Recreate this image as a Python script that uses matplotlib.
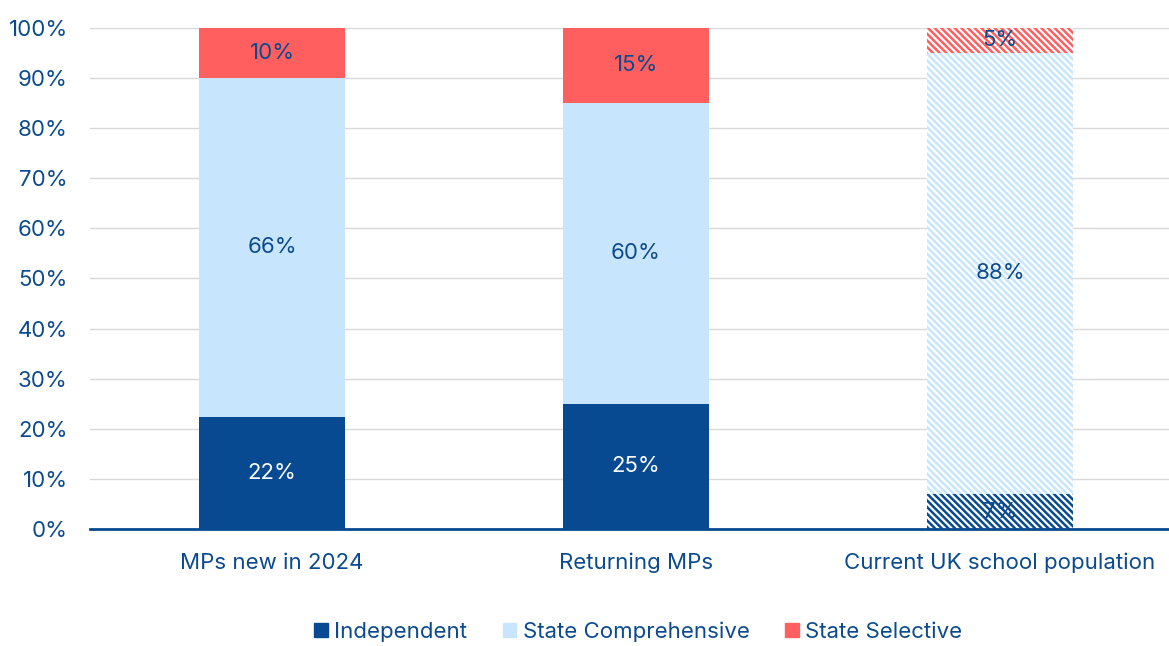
import matplotlib
matplotlib.use('Agg')
import matplotlib.pyplot as plt
from matplotlib.patches import Patch
import numpy as np

# data
categories = ['MPs new in 2024', 'Returning MPs', 'Current UK school population']
independent = [22.4, 25, 7]
comprehensive = [67.6, 60, 88]
selective = [10, 15, 5]
independent_labels = ['22%', '25%', '7%']
comprehensive_labels = ['66%', '60%', '88%']
selective_labels = ['10%', '15%', '5%']
hatched = [False, False, True]

navy = '#074A91'
light = '#C7E6FD'
red = '#FF5F5F'
text_col = '#0B4A8F'

plt.rcParams['font.family'] = ['Inter', 'DejaVu Sans']
plt.rcParams['hatch.linewidth'] = 1.8

fig = plt.figure(figsize=(11.69, 6.46), dpi=100)
ax = fig.add_axes([0.077, 0.181, 0.923, 0.776])

x = np.arange(len(categories))
w = 0.4
series = [(independent, independent_labels, navy, 'white'),
          (comprehensive, comprehensive_labels, light, text_col),
          (selective, selective_labels, red, text_col)]

bottom = np.zeros(len(categories))
for vals, labs, col, tcol in series:
    for i in range(len(categories)):
        if hatched[i]:
            ax.bar(x[i], vals[i], w, bottom=bottom[i], facecolor='white',
                   edgecolor=col, hatch='\\\\\\\\\\', linewidth=0, zorder=2)
            tc = text_col
        else:
            ax.bar(x[i], vals[i], w, bottom=bottom[i], color=col, linewidth=0, zorder=2)
            tc = tcol
        ax.text(x[i], bottom[i] + vals[i] / 2, labs[i], ha='center', va='center',
                color=tc, fontsize=16, zorder=3)
    bottom += np.array(vals)

ax.set_ylim(0, 100)
ax.set_xlim(-0.5, 2.464)
ax.set_yticks(np.arange(0, 101, 10))
ax.set_yticklabels([f'{v}%' for v in range(0, 101, 10)])
ax.set_xticks(x)
ax.set_xticklabels(categories)
ax.tick_params(axis='both', length=0, labelsize=16, labelcolor=text_col)
ax.tick_params(axis='x', pad=17)
ax.tick_params(axis='y', pad=16)
ax.grid(axis='y', color='#D9D9D9', linewidth=1, zorder=0)
ax.set_axisbelow(True)
for s in ['top', 'right', 'left']:
    ax.spines[s].set_visible(False)
ax.spines['bottom'].set_color(navy)
ax.spines['bottom'].set_linewidth(2)
ax.spines['bottom'].set_zorder(4)

handles = [Patch(color=navy, label='Independent'),
           Patch(color=light, label='State Comprehensive'),
           Patch(color=red, label='State Selective')]
leg = fig.legend(handles=handles, loc='center', bbox_to_anchor=(0.546, 0.022), ncol=3,
                 frameon=False, fontsize=16, handlelength=0.6, handleheight=0.6,
                 handletextpad=0.3, columnspacing=1.6, labelcolor=text_col)

fig.savefig('out.png', dpi=100)
